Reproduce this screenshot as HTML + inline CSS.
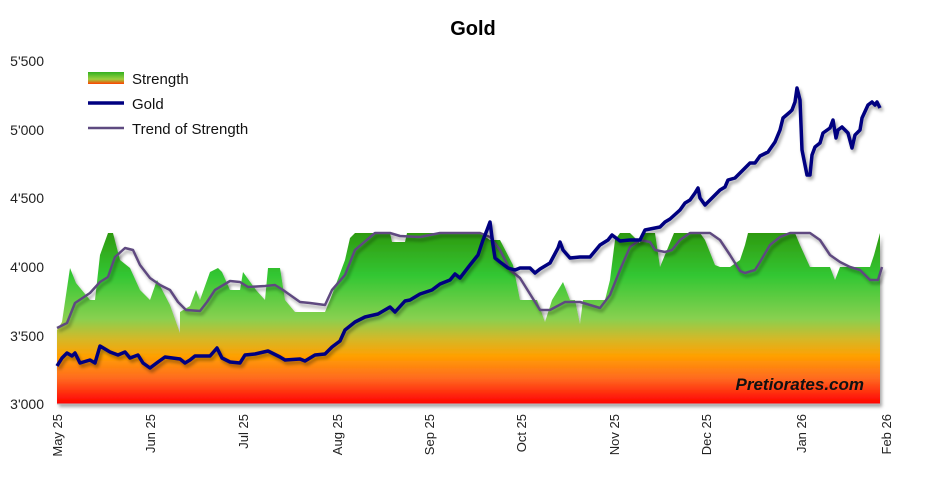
<!DOCTYPE html>
<html><head><meta charset="utf-8"><style>
body{margin:0;background:#fff;}
svg text{font-family:"Liberation Sans",Arial,sans-serif;}
</style></head><body>
<svg width="945" height="479" viewBox="0 0 945 479" xmlns="http://www.w3.org/2000/svg">
<defs>
<linearGradient id="g" x1="0" y1="233" x2="0" y2="404" gradientUnits="userSpaceOnUse">
<stop offset="0" stop-color="#2e9a10"/>
<stop offset="0.25" stop-color="#33c733"/>
<stop offset="0.5" stop-color="#88d050"/>
<stop offset="0.62" stop-color="#d4b828"/>
<stop offset="0.72" stop-color="#ffa000"/>
<stop offset="0.85" stop-color="#ff6a20"/>
<stop offset="1" stop-color="#ff0000"/>
</linearGradient>
<linearGradient id="lg" x1="0" y1="0" x2="0" y2="1">
<stop offset="0" stop-color="#33b020"/><stop offset="0.6" stop-color="#9ad040"/><stop offset="1" stop-color="#ff4000"/>
</linearGradient>
<filter id="sh" x="-5%" y="-10%" width="110%" height="120%"><feDropShadow dx="2" dy="3" stdDeviation="1.5" flood-color="#000" flood-opacity="0.35"/></filter>
</defs>
<text x="473" y="35" text-anchor="middle" font-size="20" font-weight="bold">Gold</text>
<g font-size="14" text-anchor="end" fill="#222">
<text x="44" y="409">3'000</text><text x="44" y="341">3'500</text><text x="44" y="272">4'000</text>
<text x="44" y="203">4'500</text><text x="44" y="135">5'000</text><text x="44" y="66">5'500</text>
</g>
<polygon filter="url(#sh)" fill="url(#g)" points="57,404 57,330 62,322 70,268 76,283 90,300 95,300 100,255 108,233 113,233 120,260 130,268 140,290 150,300 157,280 170,305 180,333 180,312 190,306 196,290 200,300 210,272 218,268 222,272 230,290 240,290 243,272 256,290 265,300 268,268 280,268 285,300 295,312 305,312 325,312 330,300 345,260 350,238 355,233 390,233 392,242 405,242 407,233 480,233 490,240 500,240 513,265 520,300 537,300 545,322 552,300 563,282 570,300 575,300 580,324 583,300 605,300 610,280 615,240 620,233 630,233 640,243 642,233 655,233 660,267 674,233 700,233 705,240 715,265 720,267 730,267 740,260 745,245 748,233 795,233 800,245 810,267 830,267 835,280 840,267 870,267 874,255 880,233 880,404"/>
<line x1="57" y1="404" x2="880" y2="404" stroke="#bbb"/>
<polyline filter="url(#sh)" fill="none" stroke="#5e4a80" stroke-width="2.5" stroke-linejoin="round" points="57,328 67,323 75,303 90,293 100,282 108,277 115,257 125,248 133,250 140,265 150,278 160,285 170,290 178,302 186,310 200,311 207,302 215,290 230,281 240,282 248,287 265,286 275,285 283,290 300,302 310,303 325,305 332,290 345,275 355,250 375,233 390,233 400,236 420,237 440,233 480,233 490,237 500,250 510,270 520,278 540,310 550,310 565,302 580,302 600,308 610,295 620,270 630,247 640,240 650,242 655,250 665,252 672,250 680,240 690,233 710,233 720,240 730,255 740,271 745,273 755,270 760,262 770,245 780,237 790,233 810,233 820,240 830,255 840,262 850,267 860,270 870,280 878,280 882,267"/>
<polyline filter="url(#sh)" fill="none" stroke="#000080" stroke-width="3.5" stroke-linejoin="round" points="57,366 62,358 67,353 72,356 75,353 80,363 90,360 95,363 100,346 110,352 118,355 125,352 130,358 138,355 143,363 150,368 158,362 165,357 180,359 185,363 190,360 195,356 205,356 210,356 217,348 222,358 230,362 240,363 245,355 255,354 268,351 280,357 285,360 300,359 305,361 315,355 325,354 332,347 340,341 345,330 355,322 365,317 378,314 390,307 395,312 405,301 410,300 420,294 432,290 440,284 450,280 455,274 460,278 470,265 478,255 483,240 487,230 490,222 493,245 495,258 500,262 508,268 515,270 520,268 530,268 535,273 540,269 550,263 558,248 560,242 563,250 570,258 580,257 590,257 600,245 608,240 612,235 620,241 630,240 640,240 645,230 660,227 665,222 670,219 680,210 685,203 690,200 695,193 698,188 700,198 705,205 710,200 720,190 725,187 728,180 735,178 745,168 750,163 755,163 760,156 768,152 775,142 780,130 783,118 790,112 792,110 795,102 797,88 800,100 802,150 807,175 810,175 812,155 815,147 820,143 823,133 830,128 833,120 836,138 838,130 842,127 848,133 852,148 855,135 860,130 862,118 868,105 872,102 875,105 877,102 880,108"/>
<text x="864" y="390" text-anchor="end" font-size="17" font-weight="bold" font-style="italic" fill="#111">Pretiorates.com</text>
<rect x="88" y="72" width="36" height="12" fill="url(#lg)"/>
<line x1="88" y1="103" x2="124" y2="103" stroke="#000080" stroke-width="3.5"/>
<line x1="88" y1="128" x2="124" y2="128" stroke="#5e4a80" stroke-width="2.5"/>
<g font-size="15" fill="#111"><text x="132" y="84">Strength</text><text x="132" y="109">Gold</text><text x="132" y="134">Trend of Strength</text></g>
<g font-size="13" fill="#222" text-anchor="end">
<text transform="translate(62,414) rotate(-90)">May 25</text>
<text transform="translate(155,414) rotate(-90)">Jun 25</text>
<text transform="translate(248,414) rotate(-90)">Jul 25</text>
<text transform="translate(342,414) rotate(-90)">Aug 25</text>
<text transform="translate(434,414) rotate(-90)">Sep 25</text>
<text transform="translate(526,414) rotate(-90)">Oct 25</text>
<text transform="translate(619,414) rotate(-90)">Nov 25</text>
<text transform="translate(711,414) rotate(-90)">Dec 25</text>
<text transform="translate(806,414) rotate(-90)">Jan 26</text>
<text transform="translate(891,414) rotate(-90)">Feb 26</text>
</g>
</svg>
</body></html>
